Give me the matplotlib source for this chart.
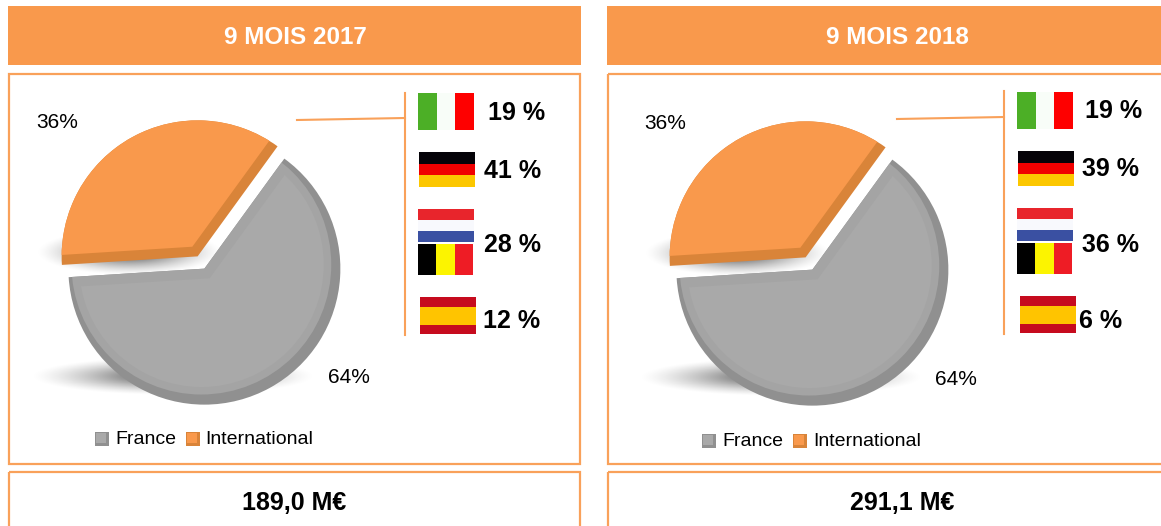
import numpy as np
import matplotlib
matplotlib.use("Agg")
import matplotlib.pyplot as plt
from matplotlib.patches import Rectangle, Circle

W, H = 1161, 526
plt.rcParams['font.family'] = ['Liberation Sans', 'DejaVu Sans']

titles = ["9 MOIS 2017", "9 MOIS 2018"]
totals = ["189,0 M€", "291,1 M€"]
categories = ["France", "International"]
shares = [[64, 36], [64, 36]]
countries = ["Italie", "Allemagne", "Benelux", "Espagne"]
country_labels = [["19 %", "41 %", "28 %", "12 %"], ["19 %", "39 %", "36 %", "6 %"]]

ORANGE = '#f9994c'
EDGE = '#f9a15a'
GREY = '#a9a9a9'
GREY_M = '#a4a4a4'
GREY_D = '#909090'
ORANGE_D = '#d98439'

fig = plt.figure(figsize=(W / 100, H / 100), dpi=100, facecolor='white')
bg = fig.add_axes([0, 0, 1, 1])
bg.set_xlim(0, W); bg.set_ylim(H, 0); bg.axis('off')


def rect(x0, y0, x1, y1, fc='none', ec='none', lw=0, z=2):
    bg.add_patch(Rectangle((x0, y0), x1 - x0, y1 - y0, fc=fc, ec=ec, lw=lw, zorder=z))


def flag(x0, y0, x1, y1, colors, vertical):
    n = len(colors)
    for i, c in enumerate(colors):
        if vertical:
            rect(x0 + (x1 - x0) * i / n, y0, x0 + (x1 - x0) * (i + 1) / n, y1, fc=c)
        else:
            rect(x0, y0 + (y1 - y0) * i / n, x1, y0 + (y1 - y0) * (i + 1) / n, fc=c)


def shadow(cx, cy, rx, ry, strength):
    xs, ys = np.meshgrid(np.linspace(-1.6, 1.6, 200), np.linspace(-1.6, 1.6, 80))
    alpha = np.clip(1.3 - np.sqrt(xs ** 2 + ys ** 2), 0, 1) ** 1.4
    img = np.zeros(alpha.shape + (4,))
    img[..., 3] = alpha * strength
    bg.imshow(img, extent=(cx - 1.6 * rx, cx + 1.6 * rx, cy + 1.6 * ry, cy - 1.6 * ry),
              aspect='auto', zorder=1, interpolation='bilinear')


layouts = [
    dict(dx=0, hdr=(8, 581), box=(9, 580), leader=(297, 120, 118), vline=(405, 93, 335),
         flags=[(418, 93), (419, 152), (418, 209), (420, 297)],
         lab=[(488, 111), (484, 169), (484, 244), (483, 320)],
         pct=[(349, 376), (57, 121)], leg=(95, 115, 186, 205, 438), c=(201, 262.5)),
    dict(dx=608, hdr=(607, 1166), box=(608, 1166), leader=(897, 119, 117), vline=(1004, 91, 334),
         flags=[(1017, 92), (1018, 151), (1017, 208), (1020, 296)],
         lab=[(1085, 110), (1082, 168), (1082, 243), (1079, 319)],
         pct=[(956, 378), (665, 122)], leg=(702, 722, 793, 813, 440), c=(809, 263.5)),
]

R = 136.0
EXPL = 7 / R
INSET = 11 / R
for k, L in enumerate(layouts):
    x0, x1 = L['hdr']
    rect(x0, 6, x1, 65, fc=ORANGE)
    bg.text(295 + L['dx'] - (6 if k else 0), 37.5, titles[k], color='white', fontsize=17.5,
            fontweight='bold', ha='center', va='center', zorder=5)
    bx0, bx1 = L['box']
    rect(bx0, 74, bx1, 464, ec=EDGE, lw=1.6)
    rect(bx0, 472, bx1, 540, ec=EDGE, lw=1.6)
    bg.text(295 + L['dx'] - 1, 503.5, totals[k], color='black', fontsize=18, fontweight='bold',
            ha='center', va='center', zorder=5)

    lx, ly0, ly1 = L['leader']
    vx, vy0, vy1 = L['vline']
    bg.plot([lx, vx], [ly0, ly1], color=EDGE, lw=1.5, zorder=3)
    bg.plot([vx, vx], [vy0, vy1], color=EDGE, lw=1.5, zorder=3)

    fl = L['flags']
    flag(fl[0][0], fl[0][1], fl[0][0] + 56, fl[0][1] + 37, ['#4caf26', '#f8fdf8', '#fe0000'], True)
    flag(fl[1][0], fl[1][1], fl[1][0] + 56, fl[1][1] + 35, ['#050308', '#f00000', '#fcc700'], False)
    flag(fl[2][0], fl[2][1], fl[2][0] + 56, fl[2][1] + 33, ['#e8252c', '#f8f9fd', '#3a50a2'], False)
    flag(fl[2][0], fl[2][1] + 35, fl[2][0] + 55, fl[2][1] + 66, ['#000000', '#fcf400', '#ee1c25'], True)
    sx, sy = fl[3]
    rect(sx, sy, sx + 56, sy + 37, fc='#c60b1e')
    rect(sx, sy + 9.5, sx + 56, sy + 27.5, fc='#ffc400')

    for (tx, ty), s in zip(L['lab'], country_labels[k]):
        bg.text(tx, ty + 1.5, s, color='black', fontsize=18, fontweight='bold', ha='left', va='center', zorder=5)

    cx, cy = L['c']
    shadow(cx - 28, cy + 114, 110, 15, 0.55)
    shadow(cx - 72, cy - 10, 72, 18, 0.55)

    half = 165
    ax = fig.add_axes([(cx - half) / W, 1 - (cy + half) / H, 2 * half / W, 2 * half / H])
    ax.patch.set_alpha(0)
    outer, _ = ax.pie(shares[k], colors=[GREY_D, ORANGE_D], startangle=54, counterclock=False,
                      explode=[EXPL, EXPL], radius=1)
    # France: straight-edge bevel stays pale, only the lower right rim is dark
    mid, _ = ax.pie(shares[k], colors=[GREY_M, ORANGE], startangle=54, counterclock=False,
                    explode=[EXPL, EXPL], radius=1)
    fc = outer[0].center
    mid[0].set_clip_path(Circle((fc[0] - 3 / R, fc[1] + 4 / R), 0.955, transform=ax.transData))
    mid[0].set_clip_on(True)
    mid[1].set_visible(False)
    inner, _ = ax.pie(shares[k], colors=[GREY, ORANGE], startangle=54, counterclock=False,
                      explode=[EXPL + INSET, EXPL + INSET], radius=1.12)
    inner[0].set_clip_path(Circle((fc[0] - 3 / R, fc[1] + 4 / R), 0.90, transform=ax.transData))
    inner[1].set_clip_path(Circle(outer[1].center, 1.0, transform=ax.transData))
    for w in inner:
        w.set_clip_on(True)
    ax.set_xlim(-half / R, half / R)
    ax.set_ylim(-half / R, half / R)
    ax.set_aspect('equal')
    ax.axis('off')

    for (tx, ty), v in zip(L['pct'], shares[k]):
        bg.text(tx, ty + 1.5, f"{v}%", color='black', fontsize=15, ha='center', va='center', zorder=5)

    s1, t1, s2, t2, ly = L['leg']
    for sw, c, cd in ((s1, GREY, GREY_D), (s2, ORANGE, ORANGE_D)):
        rect(sw, ly - 6.5, sw + 14, ly + 7.5, fc=cd)
        rect(sw + 1, ly - 5.5, sw + 11, ly + 4.5, fc=c, z=3)
    bg.text(t1, ly + 1.5, categories[0], color='black', fontsize=14, ha='left', va='center', zorder=5)
    bg.text(t2, ly + 1.5, categories[1], color='black', fontsize=14, ha='left', va='center', zorder=5)

bg.set_xlim(0, W); bg.set_ylim(H, 0)
fig.savefig('out.png', dpi=100, facecolor='white')
